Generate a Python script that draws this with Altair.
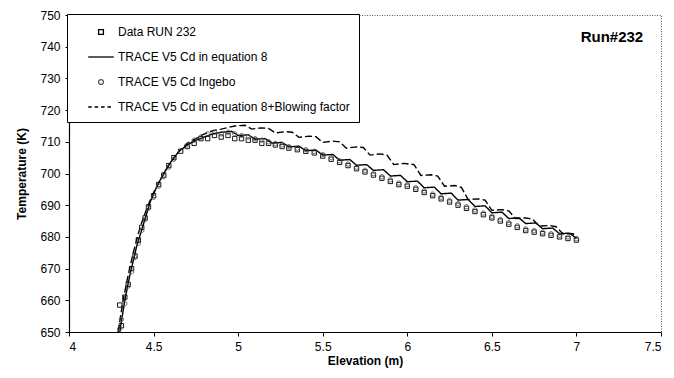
import altair as alt
import pandas as pd

SERIES = [
    "Data RUN 232",
    "TRACE V5 Cd in equation 8",
    "TRACE V5 Cd Ingebo",
    "TRACE V5 Cd in equation 8+Blowing factor",
]

# Data RUN 232 (squares)
data_x = [4.30, 4.31, 4.33, 4.35, 4.37, 4.39, 4.41, 4.43, 4.45, 4.47, 4.50, 4.53, 4.56, 4.59,
          4.62, 4.66, 4.70, 4.74, 4.78, 4.82, 4.86, 4.90, 4.94, 4.98, 5.02, 5.06, 5.10, 5.14,
          5.18, 5.22, 5.26, 5.30, 5.35, 5.40, 5.45, 5.50, 5.55, 5.60, 5.65, 5.70, 5.75, 5.80,
          5.85, 5.90, 5.95, 6.00, 6.05, 6.10, 6.15, 6.20, 6.25, 6.30, 6.35, 6.40, 6.45, 6.50,
          6.55, 6.60, 6.65, 6.70, 6.75, 6.80, 6.85, 6.90, 6.95, 7.00]
data_t = [658.5, 652.0, 661.0, 665.0, 670.0, 674.0, 679.0, 683.0, 686.0, 689.5, 693.0, 696.5,
          699.5, 702.5, 705.0, 707.0, 708.5, 709.5, 711.0, 711.0, 712.0, 711.5, 712.0, 711.0,
          711.0, 710.5, 710.5, 709.5, 709.5, 709.0, 708.5, 708.0, 707.5, 707.0, 706.5, 705.5,
          704.5, 703.5, 702.5, 701.5, 700.5, 699.5, 698.5, 697.5, 696.5, 696.0, 695.0, 694.0,
          693.0, 692.0, 691.0, 690.0, 689.0, 688.0, 687.0, 686.0, 685.0, 684.0, 683.0, 682.0,
          681.5, 681.0, 680.5, 680.0, 679.5, 679.0]

# TRACE V5 Cd Ingebo (circles)
ing_x = [4.30, 4.31, 4.33, 4.35, 4.37, 4.39, 4.41, 4.43, 4.45, 4.47, 4.50, 4.53, 4.56, 4.59,
         4.62, 4.66, 4.70, 4.74, 4.78, 4.82, 4.86, 4.90, 4.94, 4.98, 5.02, 5.06, 5.10, 5.14,
         5.18, 5.22, 5.26, 5.30, 5.35, 5.40, 5.45, 5.50, 5.55, 5.60, 5.65, 5.70, 5.75, 5.80,
         5.85, 5.90, 5.95, 6.00, 6.05, 6.10, 6.15, 6.20, 6.25, 6.30, 6.35, 6.40, 6.45, 6.50,
         6.55, 6.60, 6.65, 6.70, 6.75, 6.80, 6.85, 6.90, 6.95, 7.00]
ing_t = [651.0, 654.0, 659.0, 664.5, 669.0, 673.5, 678.0, 682.0, 685.5, 689.0, 692.5, 696.0,
         699.0, 702.0, 704.5, 707.0, 709.0, 710.5, 711.5, 712.5, 713.0, 712.5, 713.0, 712.5,
         712.0, 711.5, 711.0, 710.5, 710.0, 709.5, 709.0, 708.5, 708.0, 707.5, 707.0, 706.0,
         705.0, 704.0, 703.0, 702.0, 701.0, 700.0, 699.0, 698.0, 697.0, 696.5, 695.5, 694.5,
         693.5, 692.5, 691.5, 690.5, 689.5, 688.5, 687.5, 686.5, 685.5, 684.5, 683.5, 682.5,
         682.0, 681.5, 681.0, 680.5, 680.0, 679.5]

# TRACE V5 Cd in equation 8 (solid line)
eq8_x = [4.30, 4.33, 4.36, 4.40, 4.44, 4.48, 4.52, 4.56, 4.60, 4.65, 4.70, 4.75, 4.80, 4.85,
         4.90, 4.96, 5.00, 5.06, 5.10, 5.16, 5.20, 5.26, 5.30, 5.36, 5.40, 5.46, 5.50, 5.56,
         5.60, 5.66, 5.70, 5.76, 5.80, 5.86, 5.90, 5.96, 6.00, 6.06, 6.10, 6.16, 6.20, 6.26,
         6.30, 6.36, 6.40, 6.46, 6.50, 6.56, 6.60, 6.66, 6.70, 6.76, 6.80, 6.86, 6.90, 6.96, 7.00]
eq8_t = [650.0, 660.0, 668.0, 677.0, 684.0, 691.0, 696.0, 700.0, 703.5, 707.0, 709.0, 710.5,
         711.5, 712.5, 713.0, 713.3, 712.0, 712.2, 710.8, 711.0, 709.6, 709.8, 708.4, 708.6,
         707.2, 707.4, 705.8, 706.0, 704.2, 704.4, 702.6, 702.8, 701.0, 701.2, 699.2, 699.4,
         697.4, 697.6, 695.5, 695.7, 693.6, 693.8, 691.6, 691.8, 689.6, 689.8, 687.6, 687.8,
         685.8, 686.0, 684.2, 684.4, 682.6, 682.8, 681.0, 681.2, 679.5]

# TRACE V5 Cd in equation 8 + Blowing factor (dashed line)
blow_x = [4.29, 4.32, 4.35, 4.38, 4.42, 4.46, 4.50, 4.55, 4.60, 4.65, 4.70, 4.75, 4.80, 4.85,
          4.90, 4.98, 5.04, 5.08, 5.14, 5.18, 5.22, 5.28, 5.32, 5.36, 5.42, 5.46, 5.50, 5.56,
          5.60, 5.64, 5.70, 5.74, 5.78, 5.84, 5.88, 5.92, 5.98, 6.04, 6.08, 6.14, 6.18, 6.22,
          6.28, 6.32, 6.36, 6.42, 6.46, 6.50, 6.56, 6.60, 6.64, 6.70, 6.74, 6.78, 6.84, 6.88,
          6.92, 6.98, 7.00]
blow_t = [650.0, 660.0, 668.0, 675.0, 683.0, 689.0, 694.0, 699.0, 703.5, 707.0, 709.5, 711.0,
          712.5, 713.5, 714.0, 715.0, 715.2, 714.0, 714.4, 714.2, 712.8, 713.2, 713.0, 711.4,
          711.8, 711.6, 709.8, 710.2, 710.0, 708.0, 708.4, 708.2, 705.8, 706.2, 705.8, 702.8,
          703.2, 702.8, 699.4, 699.6, 699.2, 696.0, 696.2, 695.6, 691.8, 692.0, 691.6, 688.4,
          688.6, 688.2, 685.8, 686.0, 685.6, 683.4, 683.6, 683.2, 681.0, 681.0, 680.0]

run_label = ["Run#232"]
run_x = [7.21]
run_t = [743.0]

x_ticks = [4, 4.5, 5, 5.5, 6, 6.5, 7, 7.5]
y_ticks = [650, 660, 670, 680, 690, 700, 710, 720, 730, 740, 750]

frames = []
for name, xs, ts in [(SERIES[0], data_x, data_t), (SERIES[1], eq8_x, eq8_t),
                     (SERIES[2], ing_x, ing_t), (SERIES[3], blow_x, blow_t)]:
    frames.append(pd.DataFrame({"x": xs, "t": ts, "series": name}))
df = pd.concat(frames, ignore_index=True)

FONT = "Liberation Sans"

x_enc = alt.X("x:Q", scale=alt.Scale(domain=[4, 7.5], nice=False),
              axis=alt.Axis(values=x_ticks, title="Elevation (m)", format="~g",
                            labelOverlap=False))
y_enc = alt.Y("t:Q", scale=alt.Scale(domain=[650, 750], nice=False, zero=False),
              axis=alt.Axis(values=y_ticks, title="Temperature (K)", labelOverlap=False,
                            tickCount=11))

square_p = "M-0.3,-0.3H0.3V0.3H-0.3Z"
line_p = "M-1.6,0L1.6,0"
circle_p = "M0.3,0A0.3,0.3 0 1,1 -0.3,0A0.3,0.3 0 1,1 0.3,0Z"
dash_p = "M-1.6,0h0.45M-0.8,0h0.45M0,0h0.45M0.8,0h0.45"

leg = alt.Legend(orient="none", legendX=-2, legendY=-1, title=None, labelLimit=400)

points = alt.Chart(df).transform_filter(
    alt.FieldOneOfPredicate(field="series", oneOf=[SERIES[0], SERIES[2]])
).mark_point(filled=False, size=210, strokeWidth=0.9, opacity=1).encode(
    x=x_enc, y=y_enc,
    shape=alt.Shape("series:N", scale=alt.Scale(domain=SERIES,
                    range=[square_p, line_p, circle_p, dash_p]), legend=leg),
    color=alt.Color("series:N", scale=alt.Scale(domain=SERIES,
                    range=["#000000", "#000000", "#555555", "#000000"]), legend=leg),
)

lines = alt.Chart(df).transform_filter(
    alt.FieldOneOfPredicate(field="series", oneOf=[SERIES[1], SERIES[3]])
).mark_line(strokeWidth=1.4, color="black").encode(
    x=x_enc, y=y_enc,
    strokeDash=alt.StrokeDash("series:N", scale=alt.Scale(domain=[SERIES[1], SERIES[3]],
                              range=[[1, 0], [7, 3]]), legend=None),
)

run_df = pd.DataFrame({"x": run_x, "t": run_t, "label": run_label})
run_text = alt.Chart(run_df).mark_text(font=FONT, fontSize=15, fontWeight="bold",
                                       color="black").encode(
    x=x_enc, y=y_enc, text="label:N")

chart = alt.layer(lines, points, run_text).properties(
    width=592, height=317,
    autosize=alt.AutoSizeParams(type="none"),
    padding={"left": 61, "top": 7, "right": 5, "bottom": 38},
).configure(font=FONT).configure_view(
    stroke="#555555", strokeDash=[1, 1.5], strokeWidth=1,
).configure_axis(
    grid=False, domainColor="black", domainWidth=1.2, tickColor="black", tickSize=4,
    labelFont=FONT, labelFontSize=12, labelColor="black", titleFont=FONT,
    titleFontSize=12, titleFontWeight="bold", titleColor="black",
).configure_axisX(labelPadding=5, titlePadding=3).configure_axisY(
    labelPadding=5, titlePadding=11,
).configure_legend(
    strokeColor="black", strokeWidth=1, fillColor="white", padding=9,
    symbolSize=256, symbolOffset=16, labelOffset=8, rowPadding=10,
    labelFont=FONT, labelFontSize=12, labelColor="black", symbolStrokeWidth=1.3,
    symbolOpacity=1, labelLimit=400,
)

chart.save("out.html", embed_options={"renderer": "svg", "actions": False})
